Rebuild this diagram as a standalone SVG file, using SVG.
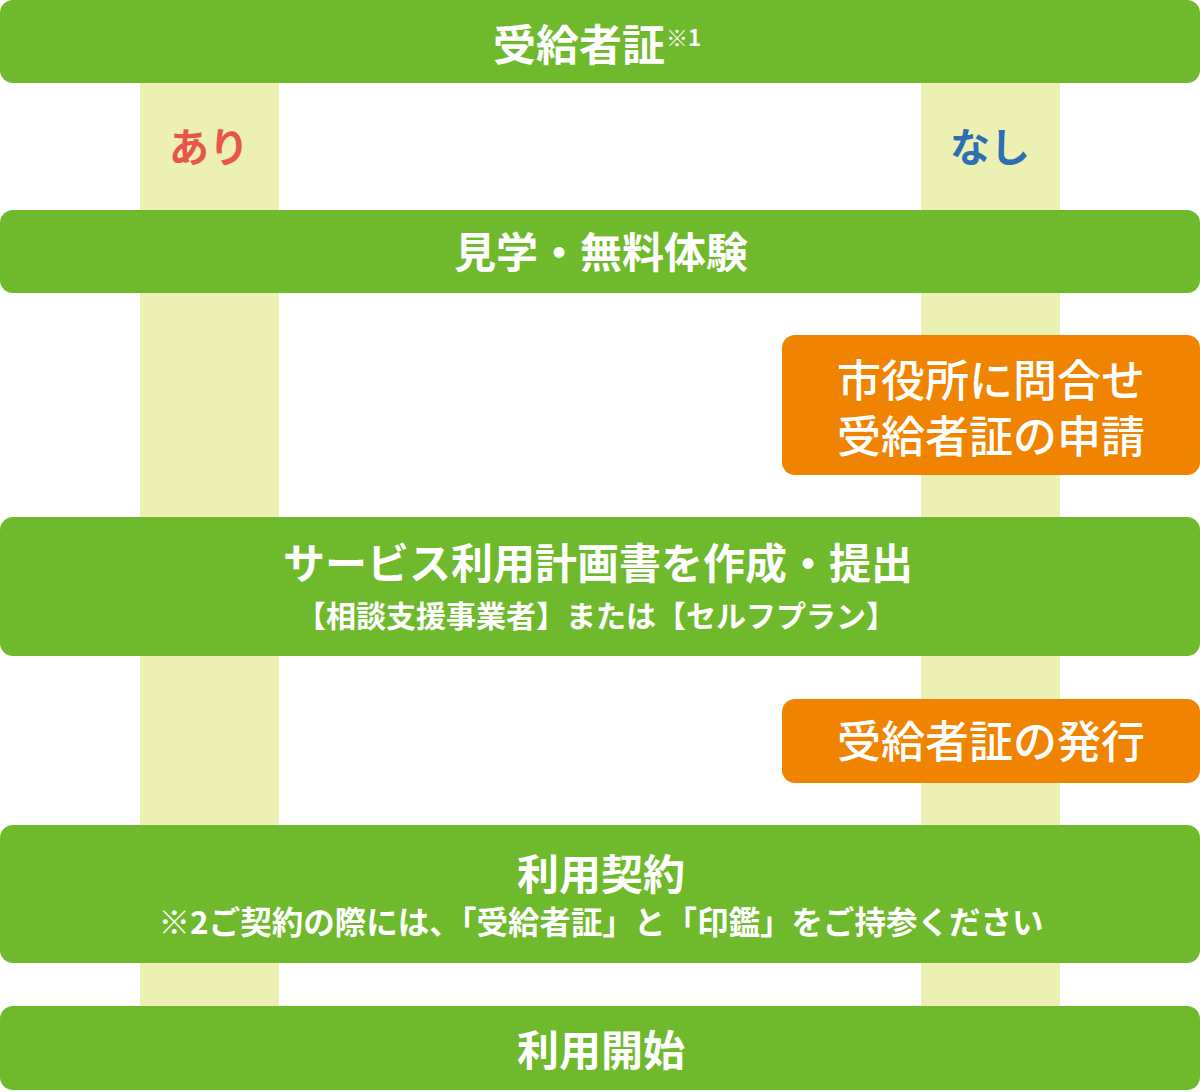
<svg xmlns="http://www.w3.org/2000/svg" width="1200" height="1092" viewBox="0 0 1200 1092">
<style>
.g{fill:#6fb92c}
.o{fill:#f08300}
.strip{fill:#ecf0b3}
text{font-family:"Noto Sans CJK JP","Noto Sans",sans-serif;fill:#fff;text-anchor:middle}
.t{font-size:42px;font-weight:700}
.s{font-size:30px;font-weight:700}
.ot{font-size:44px;font-weight:500}
.lab{font-size:40px;font-weight:700}
</style>
<rect width="1200" height="1092" fill="#fff"/>
<g id="connectors">
<rect class="strip" x="140" y="80" width="139" height="930"/>
<rect class="strip" x="921" y="80" width="139" height="930"/>
<text class="lab" x="209" y="162" style="fill:#e9544b">あり</text>
<text class="lab" x="990" y="162" style="fill:#2f6db5">なし</text>
</g>
<g id="n1">
<rect class="g" x="0" y="0" width="1200" height="83" rx="13"/>
<text class="t" x="579" y="61" style="font-size:43px">受給者証</text>
<text x="666" y="46" style="font-size:22px;font-weight:700;text-anchor:start">※1</text>
</g>
<g id="n2">
<rect class="g" x="0" y="210" width="1200" height="83" rx="13"/>
<text class="t" x="601" y="268">見学・無料体験</text>
</g>
<g id="n3">
<rect class="o" x="782" y="335" width="418" height="140" rx="13"/>
<text class="ot"><tspan x="991" y="397">市役所に問合せ</tspan><tspan x="991" y="453">受給者証の申請</tspan></text>
</g>
<g id="n4">
<rect class="g" x="0" y="517" width="1200" height="139" rx="13"/>
<text class="t" x="598" y="579">サービス利用計画書を作成・提出</text>
<text class="s" x="596" y="627">【相談支援事業者】または【セルフプラン】</text>
</g>
<g id="n5">
<rect class="o" x="782" y="699" width="418" height="84" rx="13"/>
<text class="ot" x="991" y="758">受給者証の発行</text>
</g>
<g id="n6">
<rect class="g" x="0" y="825" width="1200" height="138" rx="13"/>
<text class="t" x="601" y="890">利用契約</text>
<text class="s" x="601" y="934" style="font-size:31.5px">※2ご契約の際には、「受給者証」と「印鑑」をご持参ください</text>
</g>
<g id="n7">
<rect class="g" x="0" y="1006" width="1200" height="84" rx="13"/>
<text class="t" x="601" y="1066">利用開始</text>
</g>
</svg>
